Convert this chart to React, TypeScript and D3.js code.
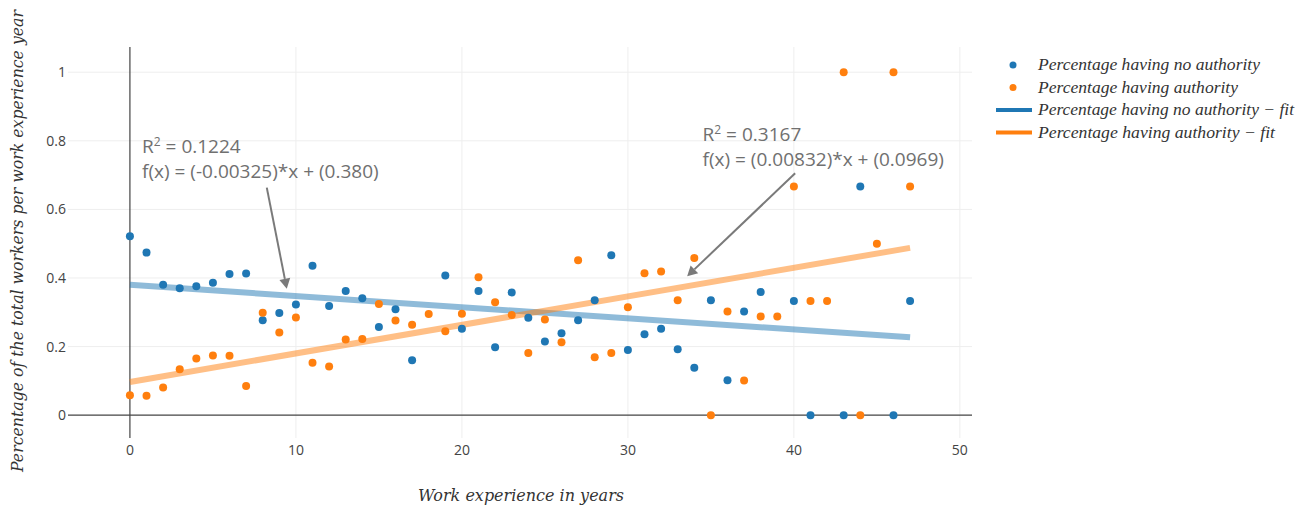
import React from "react";
import * as d3 from "d3";

// work experience (years) for each group
const yearsNoAuth = [0,1,2,3,4,5,6,7,8,9,10,11,12,13,14,15,16,17,19,20,21,22,23,24,25,26,27,28,29,30,31,32,33,34,35,36,37,38,40,41,43,44,46,47];
const shareNoAuth = [0.522,0.474,0.380,0.370,0.376,0.386,0.412,0.413,0.277,0.298,0.323,0.436,0.318,0.362,0.341,0.257,0.309,0.160,0.407,0.252,0.362,0.198,0.358,0.284,0.215,0.239,0.277,0.335,0.466,0.190,0.236,0.252,0.192,0.138,0.335,0.102,0.302,0.359,0.333,0,0,0.667,0,0.333];

const yearsAuth = [0,1,2,3,4,5,6,7,8,9,10,11,12,13,14,15,16,17,18,19,20,21,22,23,24,25,26,27,28,29,30,31,32,33,34,35,36,37,38,39,40,41,42,43,44,45,46,47];
const shareAuth = [0.058,0.057,0.081,0.134,0.165,0.174,0.173,0.085,0.299,0.241,0.285,0.153,0.142,0.221,0.222,0.324,0.276,0.264,0.295,0.245,0.296,0.402,0.329,0.292,0.181,0.279,0.213,0.452,0.169,0.181,0.315,0.414,0.419,0.335,0.458,0,0.302,0.101,0.288,0.288,0.667,0.333,0.333,1,0,0.5,1,0.667];

// linear fits
const fitNoAuth = { slope: -0.00325, intercept: 0.380, r2: "0.1224" };
const fitAuth = { slope: 0.00832, intercept: 0.0969, r2: "0.3167" };
const fitRange = [0, 47];

const xTicks = [0, 10, 20, 30, 40, 50];
const yTicks = [0, 0.2, 0.4, 0.6, 0.8, 1];

const legendLabels = [
  "Percentage having no authority",
  "Percentage having authority",
  "Percentage having no authority \u2212 fit",
  "Percentage having authority \u2212 fit",
];

const BLUE = "#1f77b4";
const ORANGE = "#ff7f0e";

export default function App() {
  const width = 1302;
  const height = 505;
  const plot = { left: 68, right: 972, top: 47, bottom: 438 };

  const x = d3.scaleLinear().domain([-3.73, 50.73]).range([plot.left, plot.right]);
  const y = d3.scaleLinear().domain([-0.0665, 1.0735]).range([plot.bottom, plot.top]);

  const fitLine = (f: { slope: number; intercept: number }) =>
    d3.line<number>()
      .x((d) => x(d))
      .y((d) => y(f.slope * d + f.intercept))(fitRange) as string;

  const tickFont = "'Open Sans', sans-serif";
  const mathFont = "'DejaVu Serif', serif";
  const legendFont = "'Liberation Serif', serif";

  const annotations = [
    { fit: fitNoAuth, tip: [9.45, 0.369], tail: [-20, -101], text: [0.73, 0.764],
      eq: "f(x) = (-0.00325)*x + (0.380)" },
    { fit: fitAuth, tip: [33.57, 0.405], tail: [108, -103], text: [34.5, 0.80],
      eq: "f(x) = (0.00832)*x + (0.0969)" },
  ];

  return (
    <div style={{ position: "absolute", left: 0, top: 0 }}>
      <svg width={width} height={height} style={{ display: "block", background: "#fff" }}>
        {/* grid */}
        {xTicks.filter((t) => t !== 0).map((t) => (
          <line key={"gx" + t} x1={x(t)} x2={x(t)} y1={plot.top} y2={plot.bottom} stroke="#eee" strokeWidth={1} />
        ))}
        {yTicks.filter((t) => t !== 0).map((t) => (
          <line key={"gy" + t} x1={plot.left} x2={plot.right} y1={y(t)} y2={y(t)} stroke="#eee" strokeWidth={1} />
        ))}
        {/* zero lines */}
        <line x1={x(0)} x2={x(0)} y1={plot.top} y2={plot.bottom} stroke="#444" strokeWidth={1.2} />
        <line x1={plot.left} x2={plot.right} y1={y(0)} y2={y(0)} stroke="#444" strokeWidth={1.2} />

        {/* tick labels */}
        {xTicks.map((t) => (
          <text key={"tx" + t} x={x(t)} y={455} textAnchor="middle" fontFamily={tickFont} fontSize={14} fill="#444">
            {d3.format("~g")(t)}
          </text>
        ))}
        {yTicks.map((t) => (
          <text key={"ty" + t} x={66} y={y(t) + 5} textAnchor="end" fontFamily={tickFont} fontSize={14} fill="#444">
            {d3.format("~g")(t)}
          </text>
        ))}

        {/* fit lines */}
        <path d={fitLine(fitNoAuth)} stroke={BLUE} strokeOpacity={0.5} strokeWidth={6} fill="none" />
        <path d={fitLine(fitAuth)} stroke={ORANGE} strokeOpacity={0.5} strokeWidth={6} fill="none" />

        {/* points */}
        {yearsNoAuth.map((yr, i) => (
          <circle key={"b" + i} cx={x(yr)} cy={y(shareNoAuth[i])} r={4} fill={BLUE} />
        ))}
        {yearsAuth.map((yr, i) => (
          <circle key={"o" + i} cx={x(yr)} cy={y(shareAuth[i])} r={4} fill={ORANGE} />
        ))}

        {/* annotations */}
        {annotations.map((a, i) => {
          const tx = x(a.tip[0]);
          const ty = y(a.tip[1]);
          const sx = tx + a.tail[0];
          const sy = ty + a.tail[1];
          const ang = Math.atan2(ty - sy, tx - sx);
          const L = 10, W = 5.5;
          const bx = tx - L * Math.cos(ang);
          const by = ty - L * Math.sin(ang);
          const head = [
            [tx, ty],
            [bx + W * Math.sin(ang), by - W * Math.cos(ang)],
            [bx - W * Math.sin(ang), by + W * Math.cos(ang)],
          ];
          return (
            <g key={"a" + i}>
              <line x1={sx} y1={sy} x2={bx} y2={by} stroke="#7a7a7a" strokeWidth={2} />
              <polygon points={head.map((p) => p.join(",")).join(" ")} fill="#7a7a7a" />
              <text x={x(a.text[0])} y={y(a.text[1])} fontFamily={tickFont} fontSize={19} fill="#707070">
                R<tspan dy={-7} fontSize={12}>2</tspan><tspan dy={7}> = {a.fit.r2}</tspan>
              </text>
              <text x={x(a.text[0])} y={y(a.text[1]) + 25} fontFamily={tickFont} fontSize={19} fill="#707070">
                {a.eq}
              </text>
            </g>
          );
        })}

        {/* axis titles */}
        <text x={521} y={501} textAnchor="middle" fontFamily={mathFont} fontStyle="italic" fontSize={17}
          fill="#333" textLength={206} lengthAdjust="spacingAndGlyphs">
          Work experience in years
        </text>
        <text transform="translate(23,241) rotate(-90)" textAnchor="middle" fontFamily={mathFont} fontStyle="italic"
          fontSize={16} fill="#333" textLength={462} lengthAdjust="spacingAndGlyphs">
          Percentage of the total workers per work experience year
        </text>

        {/* legend */}
        {legendLabels.map((lab, i) => {
          const ly = 65 + i * 22.5;
          const widths = [222, 200, 256, 237];
          return (
            <g key={"l" + i}>
              {i < 2 ? (
                <circle cx={1013} cy={ly} r={3.5} fill={i === 0 ? BLUE : ORANGE} />
              ) : (
                <line x1={996} x2={1032} y1={ly} y2={ly} stroke={i === 2 ? BLUE : ORANGE} strokeWidth={4} />
              )}
              <text x={1038} y={ly + 5} fontFamily={legendFont} fontStyle="italic" fontSize={16} fill="#333"
                textLength={widths[i]} lengthAdjust="spacingAndGlyphs">
                {lab}
              </text>
            </g>
          );
        })}
      </svg>
    </div>
  );
}
